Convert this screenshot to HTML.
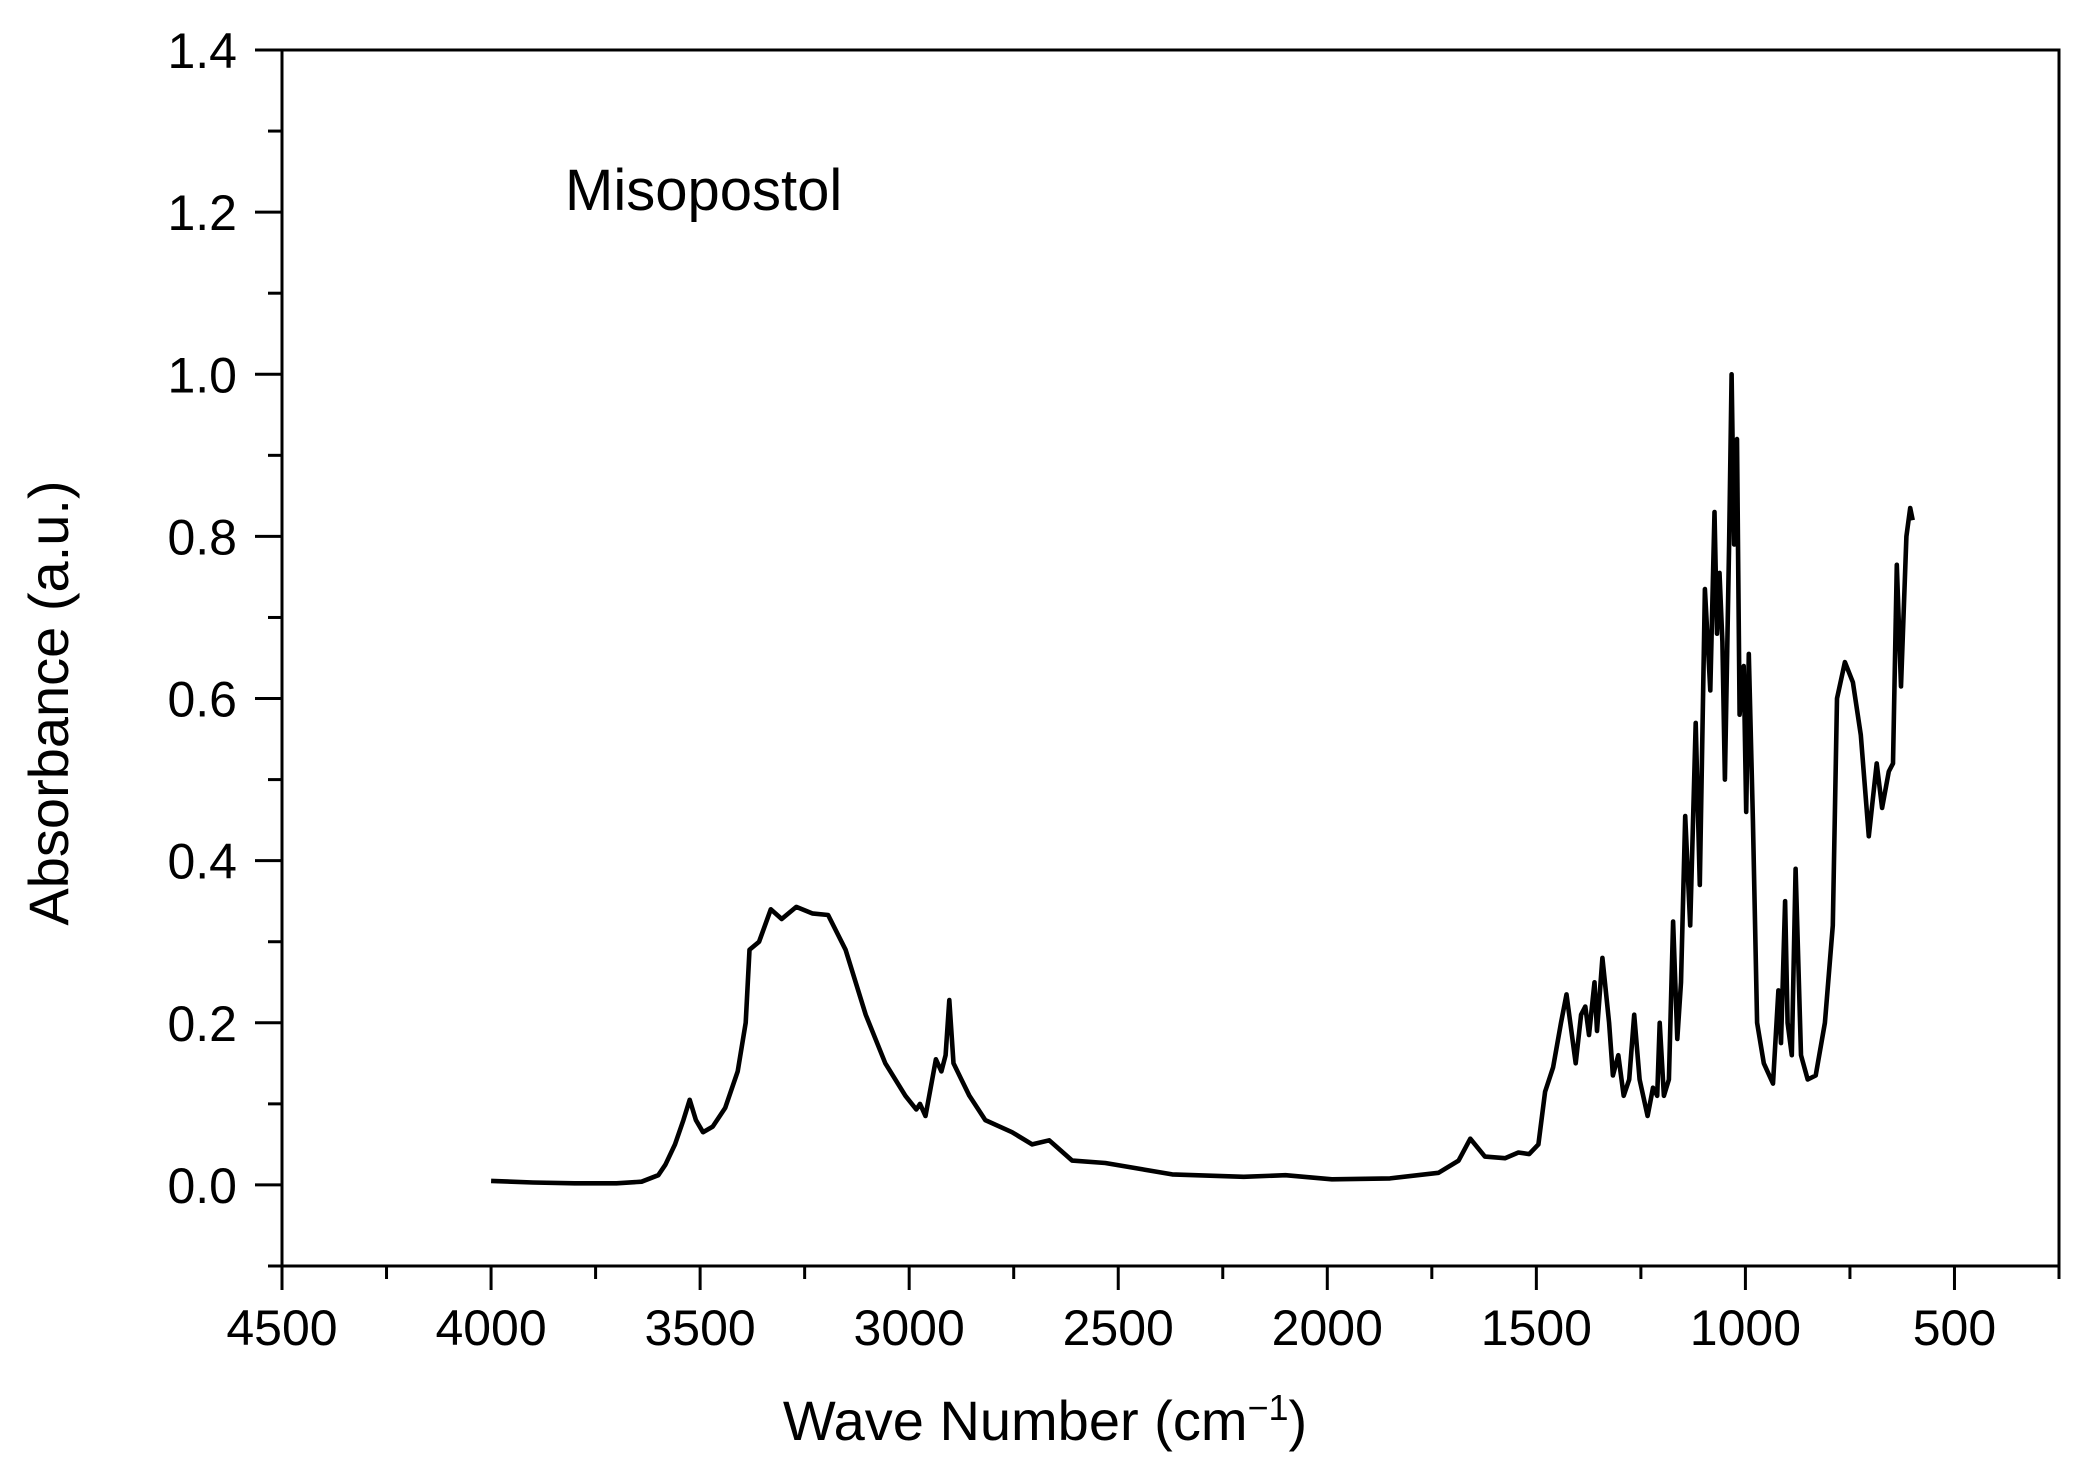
<!DOCTYPE html>
<html><head><meta charset="utf-8"><style>
html,body{margin:0;padding:0;background:#fff;}
svg{display:block;font-family:"Liberation Sans",sans-serif;}
</style></head><body>
<svg id="chart" width="2090" height="1478" viewBox="0 0 2090 1478">
<g id="axes"></g>
<path id="spectrum" fill="none" stroke="#000" stroke-width="4.6" stroke-linejoin="round"/>
<text x="565" y="210" font-size="58">Misopostol</text>
<text transform="translate(68,703) rotate(-90)" text-anchor="middle" font-size="56">Absorbance (a.u.)</text>
<text x="1045" y="1440" text-anchor="middle" font-size="56">Wave Number (cm<tspan font-size="36" dy="-20">−1</tspan><tspan dy="20">)</tspan></text>
</svg>
<script>
const waveNumbers=[4000,3900,3800,3700,3640,3600,3583,3560,3540,3525,3510,3493,3470,3440,3410,3391,3382,3359,3331,3305,3270,3232,3194,3152,3104,3057,3009,2983,2974,2961,2945,2936,2923,2913,2904,2894,2875,2856,2818,2754,2706,2665,2610,2531,2371,2200,2100,1989,1850,1734,1686,1658,1623,1575,1543,1517,1495,1479,1460,1441,1428,1406,1393,1383,1374,1361,1355,1342,1326,1317,1304,1291,1278,1266,1253,1234,1221,1211,1205,1195,1183,1173,1163,1154,1144,1132,1119,1109,1097,1084,1074,1068,1062,1055,1049,1039,1033,1027,1020,1014,1004,998,992,982,972,956,934,921,915,905,899,889,880,867,851,832,810,791,781,762,743,724,705,686,673,657,647,638,628,615,606,600];
const absorbance=[0.005,0.003,0.002,0.002,0.004,0.012,0.025,0.05,0.08,0.105,0.08,0.065,0.072,0.095,0.14,0.2,0.29,0.3,0.34,0.328,0.343,0.335,0.333,0.29,0.21,0.15,0.11,0.093,0.1,0.085,0.13,0.155,0.14,0.16,0.228,0.15,0.13,0.11,0.08,0.065,0.05,0.055,0.03,0.027,0.013,0.01,0.012,0.007,0.008,0.015,0.03,0.057,0.035,0.033,0.04,0.038,0.05,0.115,0.145,0.2,0.235,0.15,0.21,0.22,0.185,0.25,0.19,0.28,0.2,0.135,0.16,0.11,0.13,0.21,0.13,0.085,0.12,0.11,0.2,0.11,0.13,0.325,0.18,0.25,0.455,0.32,0.57,0.37,0.735,0.61,0.83,0.68,0.755,0.67,0.5,0.79,1.0,0.79,0.92,0.58,0.64,0.46,0.655,0.45,0.2,0.15,0.125,0.24,0.175,0.35,0.2,0.16,0.39,0.16,0.13,0.135,0.2,0.32,0.6,0.645,0.62,0.555,0.43,0.52,0.465,0.51,0.52,0.765,0.615,0.8,0.835,0.82];
const xTickLabels=["4500","4000","3500","3000","2500","2000","1500","1000","500"];
const yTickLabels=["0.0","0.2","0.4","0.6","0.8","1.0","1.2","1.4"];
const NS="http://www.w3.org/2000/svg";
const L=282,R=2059,T=50,B=1266;
const xMax=4500,xMin=250,yMin=-0.1,yMax=1.4;
function sx(v){return L+(xMax-v)/(xMax-xMin)*(R-L);}
function sy(v){return B-(v-yMin)/(yMax-yMin)*(B-T);}
const axes=document.getElementById('axes');
function mk(tag,attrs){const e=document.createElementNS(NS,tag);for(const k in attrs)e.setAttribute(k,attrs[k]);axes.appendChild(e);return e;}
const frame=mk('rect',{x:L,y:T,width:R-L,height:B-T,fill:'none',stroke:'#000','stroke-width':3});


xTickLabels.forEach((t)=>{
  const v=+t;const x=sx(v);
  const tk=mk('line',{x1:x,y1:B,x2:x,y2:B+24,stroke:'#000','stroke-width':3});
  
  
  const mx=sx(v-250);
  if(v-250>=xMin){const m=mk('line',{x1:mx,y1:B,x2:mx,y2:B+13,stroke:'#000','stroke-width':3});
  
  }
  const lb=mk('text',{x:x,y:B+79,'text-anchor':'middle','font-size':50});
  lb.textContent=t;
  
  
});
for(let v=-0.1;v<1.45;v+=0.1){
  const y=sy(v);const major=Math.abs(Math.round(v*10)%2)===0;
  const tk=mk('line',{x1:L-(major?27:14),y1:y,x2:L,y2:y,stroke:'#000','stroke-width':3});
  
  
}
yTickLabels.forEach((t)=>{
  const y=sy(+t);
  const lb=mk('text',{x:237,y:y+18,'text-anchor':'end','font-size':50});
  lb.textContent=t;
  
  
});
let d='';
waveNumbers.forEach((w,i)=>{d+=(i?'L':'M')+sx(w).toFixed(1)+','+sy(absorbance[i]).toFixed(1);});
document.getElementById('spectrum').setAttribute('d',d);
</script>
</body></html>
